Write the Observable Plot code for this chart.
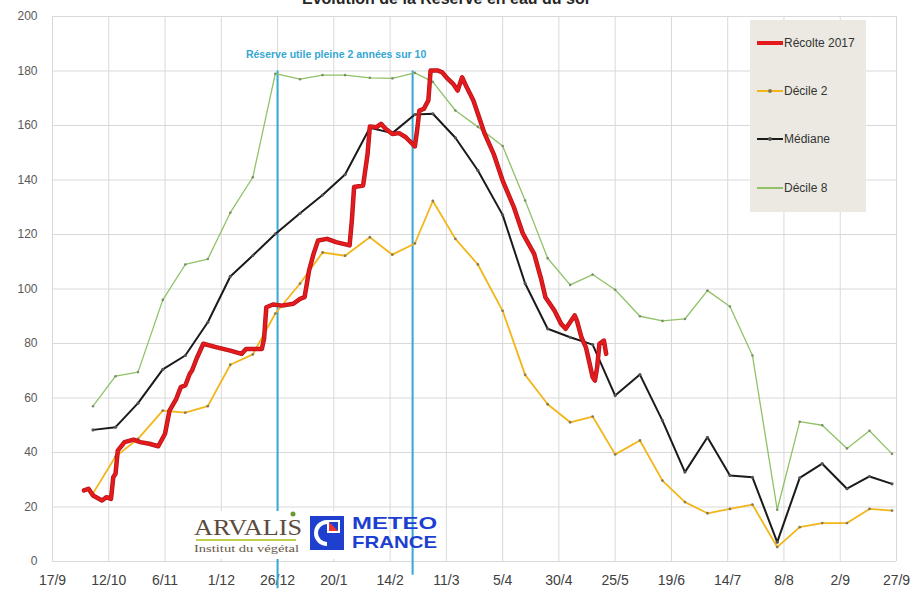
<!DOCTYPE html>
<html>
<head>
<meta charset="utf-8">
<script src="https://cdn.jsdelivr.net/npm/d3@7"></script>
<script src="https://cdn.jsdelivr.net/npm/@observablehq/plot@0.6"></script>
<style>
  html, body { margin: 0; padding: 0; background: #fff; }
  #wrap { position: relative; width: 910px; height: 590px; overflow: hidden; font-family: "Liberation Sans", Arial, sans-serif; }
  #title { position: absolute; top: -9px; left: 302px; font-size: 16px; line-height: 16px; font-weight: bold; color: #262626; white-space: nowrap; }
  #legend { position: absolute; left: 750px; top: 20px; width: 116px; height: 192px; background: #ebe9e1; }
  .item { position: absolute; left: 0; width: 116px; height: 16px; }
  .sw { position: absolute; left: 7px; width: 26px; top: 50%; }
  .lab { position: absolute; left: 34px; top: 0; font-size: 12px; line-height: 16px; color: #333; white-space: nowrap; }
  .mk { position: absolute; left: 11px; width: 4px; height: 4px; border-radius: 50%; top: -2px; }
  #logos { position: absolute; left: 0; top: 0; }
</style>
</head>
<body>
<div id="wrap">
  <div id="chart"></div>
  <div id="title">Evolution de la Réserve en eau du sol</div>
  <div id="legend"></div>
  <svg id="logos" width="910" height="590"></svg>
</div>
<script>
// ---------- Data ----------
const xTickDates = ["2016-09-17","2016-10-12","2016-11-06","2016-12-01","2016-12-26","2017-01-20","2017-02-14","2017-03-11","2017-04-05","2017-04-30","2017-05-25","2017-06-19","2017-07-14","2017-08-08","2017-09-02","2017-09-27"];
const xTickLabels = ["17/9","12/10","6/11","1/12","26/12","20/1","14/2","11/3","5/4","30/4","25/5","19/6","14/7","8/8","2/9","27/9"];
const yTicks = [0,20,40,60,80,100,120,140,160,180,200];

// 10-day periods (décades)
const decadeDates = ["2016-10-05","2016-10-15","2016-10-25","2016-11-05","2016-11-15","2016-11-25","2016-12-05","2016-12-15","2016-12-25",
  "2017-01-05","2017-01-15","2017-01-25","2017-02-05","2017-02-15","2017-02-25","2017-03-05","2017-03-15","2017-03-25",
  "2017-04-05","2017-04-15","2017-04-25","2017-05-05","2017-05-15","2017-05-25","2017-06-05","2017-06-15","2017-06-25",
  "2017-07-05","2017-07-15","2017-07-25","2017-08-05","2017-08-15","2017-08-25","2017-09-05","2017-09-15","2017-09-25"];

const decile2 = [25,38.5,45,55.4,54.6,57,72.2,76,91,102,113.4,112.2,119,112.6,116.7,132.3,118.4,109,92,68.5,57.7,51.1,53.2,39.3,44.4,29.7,21.8,17.7,19.3,20.9,5.3,12.6,14.1,14.1,19.3,18.7];
const mediane = [48.3,49.3,58.1,70.5,75.6,87.8,104.6,112.3,120.2,127.8,134.5,142,159.2,157.2,164,164.3,155.5,143.5,127.2,102,85.4,82.3,79.6,60.9,68.6,51.7,32.8,45.6,31.6,30.9,7.1,30.7,35.9,26.7,31.2,28.5];
const decile8 = [57,68,69.5,96,109,111,128,141,179,177,178.5,178.5,177.5,177.3,179.3,176,165.5,159.5,152.5,132.5,111.3,101.5,105.3,99.7,90,88.3,89,99.4,93.6,75.6,19,51.3,50,41.5,48,39.5];

const redDates = ["2016-10-01","2016-10-03","2016-10-05","2016-10-09","2016-10-11","2016-10-13","2016-10-14","2016-10-15","2016-10-16","2016-10-19","2016-10-23","2016-10-26","2016-10-30",
  "2016-11-03","2016-11-06","2016-11-08","2016-11-11","2016-11-13","2016-11-15","2016-11-17","2016-11-18","2016-11-20","2016-11-23","2016-11-29",
  "2016-12-05","2016-12-10","2016-12-12","2016-12-17","2016-12-19","2016-12-20","2016-12-21","2016-12-24","2016-12-28",
  "2017-01-02","2017-01-05","2017-01-07","2017-01-08","2017-01-09","2017-01-11","2017-01-13","2017-01-17","2017-01-21","2017-01-27","2017-01-28","2017-01-29",
  "2017-02-02","2017-02-04","2017-02-05","2017-02-08","2017-02-10","2017-02-12","2017-02-15","2017-02-18","2017-02-21","2017-02-25","2017-02-26","2017-02-27",
  "2017-03-01","2017-03-03","2017-03-04","2017-03-07","2017-03-09","2017-03-11","2017-03-14","2017-03-16","2017-03-18","2017-03-20","2017-03-23","2017-03-25","2017-03-28",
  "2017-04-01","2017-04-05","2017-04-10","2017-04-14","2017-04-19","2017-04-22","2017-04-24","2017-04-25","2017-04-28",
  "2017-05-01","2017-05-03","2017-05-04","2017-05-07","2017-05-08","2017-05-10","2017-05-12","2017-05-13","2017-05-15","2017-05-16","2017-05-17","2017-05-18","2017-05-20","2017-05-21"];
const redValues = [26.1,26.7,24.2,22.4,23.6,23,30.9,32.2,40.7,43.8,44.7,43.8,43.2,
  42.3,46.9,55.4,59.7,64,64.6,68.9,70.1,74.4,79.9,78.6,
  77.4,76.2,78,78,78,81.7,93.3,94.3,93.9,
  94.6,96.4,97,101.9,106.8,112.9,117.8,118.4,117.2,116,125.1,137.4,
  138,149.6,159.6,159.4,160.6,158.8,156.9,157.2,155.7,152.3,158.2,165.5,
  166.1,169.2,180.2,180.2,179.6,177.7,175.3,172.8,177.7,174.1,169.2,164.3,157,
  149.6,139.8,130,120.3,112.9,104,97,95.8,92.1,
  87.2,85.4,86.6,90.3,88.4,82.3,78.6,75,67.6,66.4,71.3,79.9,81.1,76.2];

const markerDates = ["2016-12-26","2017-02-24"];
const markerTop = [180,180];
const markerBottom = [-10,-5];
const annotationText = "Réserve utile pleine 2 années sur 10";
const annotationDate = "2017-01-21";
const annotationValue = 186;

const seriesNames = ["Récolte 2017","Décile 2","Médiane","Décile 8"];

// ---------- Build tables ----------
const parse = s => new Date(s + "T00:00:00Z");
const xTicks = xTickDates.map(parse);
const labelMap = new Map(xTicks.map((d, i) => [+d, xTickLabels[i]]));
const dec = (vals) => decadeDates.map((d, i) => ({date: parse(d), v: vals[i]}));
const d2 = dec(decile2), med = dec(mediane), d8 = dec(decile8);
const red = redDates.map((d, i) => ({date: parse(d), v: redValues[i]}));
const markers = markerDates.map((d, i) => ({date: parse(d), y1: markerTop[i], y2: markerBottom[i]}));
const annot = [{date: parse(annotationDate), v: annotationValue, t: annotationText}];

const C = {red: "#e41a1c", redDark: "#b3141a", d2: "#f2b619", med: "#1a1a1a", d8: "#8fc267", blue: "#35a7d3", grid: "#d9d9d9"};

const chart = Plot.plot({
  width: 910,
  height: 590,
  marginLeft: 52,
  marginRight: 14,
  marginTop: 16,
  marginBottom: 29,
  style: {fontFamily: "Liberation Sans, Arial, sans-serif", background: "transparent"},
  x: {type: "utc", domain: [xTicks[0], xTicks[xTicks.length - 1]]},
  y: {domain: [0, 200]},
  marks: [
    Plot.gridX({ticks: xTicks, stroke: C.grid, strokeOpacity: 1, strokeWidth: 1}),
    Plot.gridY({ticks: yTicks, stroke: C.grid, strokeOpacity: 1, strokeWidth: 1}),
    Plot.axisY({ticks: yTicks, tickSize: 0, tickPadding: 15, fontSize: 12, fill: "#595959", label: null}),
    Plot.axisX({ticks: xTicks, tickFormat: d => labelMap.get(+d), tickSize: 0, tickPadding: 14, fontSize: 14, fill: "#404040", label: null}),
    Plot.ruleX(markers, {x: "date", y1: "y1", y2: "y2", stroke: C.blue, strokeWidth: 2}),
    Plot.text(annot, {x: "date", y: "v", text: "t", fill: C.blue, fontSize: 10.5, fontWeight: "bold"}),
    Plot.line(d8, {x: "date", y: "v", stroke: C.d8, strokeWidth: 1.3}),
    Plot.dot(d8, {x: "date", y: "v", r: 1.3, fill: "#7a8f6a"}),
    Plot.line(d2, {x: "date", y: "v", stroke: C.d2, strokeWidth: 1.8}),
    Plot.dot(d2, {x: "date", y: "v", r: 1.4, fill: "#8a7d55"}),
    Plot.line(med, {x: "date", y: "v", stroke: C.med, strokeWidth: 2}),
    Plot.dot(med, {x: "date", y: "v", r: 1.6, fill: "#555"}),
    Plot.line(red, {x: "date", y: "v", stroke: C.redDark, strokeWidth: 4.5, strokeLinejoin: "round"}),
    Plot.line(red, {x: "date", y: "v", stroke: C.red, strokeWidth: 3, strokeLinejoin: "round"})
  ]
});
document.getElementById("chart").appendChild(chart);

// ---------- Legend ----------
const legend = document.getElementById("legend");
const legSpec = [
  {name: seriesNames[0], color: C.red, w: 4, top: 15, mk: null},
  {name: seriesNames[1], color: C.d2, w: 2, top: 63, mk: "#8a7d55"},
  {name: seriesNames[2], color: C.med, w: 2.2, top: 111, mk: "#555"},
  {name: seriesNames[3], color: C.d8, w: 1.2, top: 160, mk: null}
];
legSpec.forEach(s => {
  const it = document.createElement("div");
  it.className = "item";
  it.style.top = s.top + "px";
  const sw = document.createElement("div");
  sw.className = "sw";
  sw.style.height = s.w + "px";
  sw.style.marginTop = (-s.w / 2) + "px";
  sw.style.background = s.color;
  if (s.mk) {
    const m = document.createElement("div");
    m.className = "mk";
    m.style.background = s.mk;
    m.style.top = (s.w / 2 - 2) + "px";
    sw.appendChild(m);
  }
  const lab = document.createElement("div");
  lab.className = "lab";
  lab.textContent = s.name;
  it.appendChild(sw);
  it.appendChild(lab);
  legend.appendChild(it);
});

// ---------- Logos (decorative text) ----------
const NS = "http://www.w3.org/2000/svg";
const logos = document.getElementById("logos");
function el(tag, attrs, text) {
  const e = document.createElementNS(NS, tag);
  for (const k in attrs) e.setAttribute(k, attrs[k]);
  if (text) e.textContent = text;
  logos.appendChild(e);
  return e;
}
el("rect", {x: 190, y: 511, width: 158, height: 48, fill: "#fff"});
el("text", {x: 194, y: 535, "font-family": "Liberation Serif, DejaVu Serif, serif", "font-size": 24, fill: "#5b4b3d", textLength: 108, lengthAdjust: "spacingAndGlyphs"}, "ARVALIS");
el("circle", {cx: 293, cy: 514, r: 2.5, fill: "#6a9a2a"});
el("rect", {x: 196, y: 539, width: 100, height: 2, fill: "#c2cf4a"});
el("text", {x: 194, y: 552, "font-family": "Liberation Serif, DejaVu Serif, serif", "font-size": 10, fill: "#6a5a4a", textLength: 105, lengthAdjust: "spacingAndGlyphs"}, "Institut du végétal");
el("rect", {x: 310, y: 516, width: 34, height: 34, fill: "#1f3fcf"});
el("path", {d: "M 327 520 A 13 13 0 0 0 327 546 Z", fill: "#fff"});
el("path", {d: "M 327 524 A 9 9 0 0 0 327 542 Z", fill: "#1f3fcf"});
el("path", {d: "M 327 520 L 340 520 L 340 533 L 327 533 Z", fill: "#fff"});
el("path", {d: "M 329 522 L 338 522 L 338 531 L 329 531 Z", fill: "#e33"});
el("path", {d: "M 329 522 L 338 522 L 338 531 Z", fill: "#1f3fcf"});
el("text", {x: 352, y: 529, "font-family": "Liberation Sans, Arial, sans-serif", "font-size": 17, "font-weight": "bold", fill: "#1d3fd0", textLength: 85, lengthAdjust: "spacingAndGlyphs"}, "METEO");
el("text", {x: 352, y: 548, "font-family": "Liberation Sans, Arial, sans-serif", "font-size": 17, "font-weight": "bold", fill: "#1d3fd0", textLength: 85, lengthAdjust: "spacingAndGlyphs"}, "FRANCE");
</script>
</body>
</html>
